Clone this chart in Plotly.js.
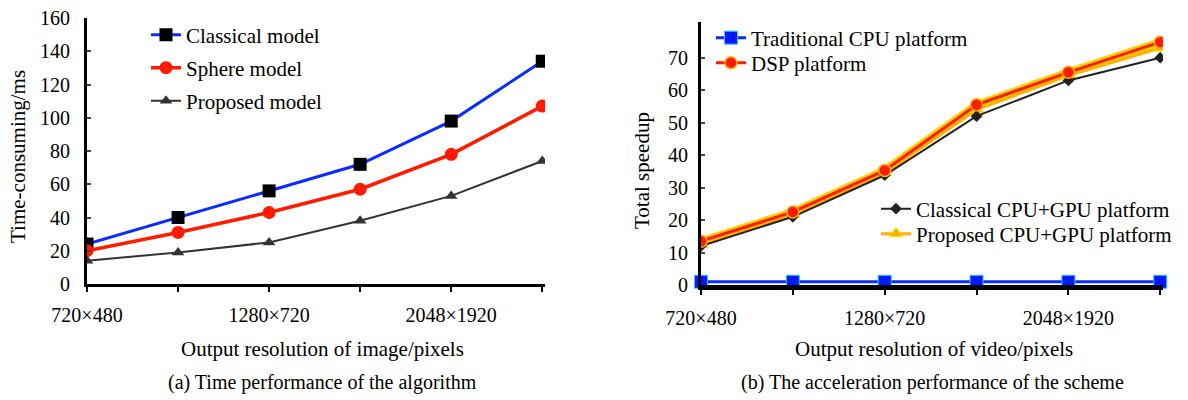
<!DOCTYPE html>
<html><head><meta charset="utf-8">
<script src="https://cdn.plot.ly/plotly-3.0.1.min.js"></script>
<style>html,body{margin:0;padding:0;background:#fff}#c{width:1188px;height:400px}</style>
</head><body><div id="c"></div>
<script>
// ---- data ----
const xIdx = [0, 1, 2, 3, 4, 5];
const tickLabels = ['720×480', '', '1280×720', '', '2048×1920', ''];
// (a) time performance (ms)
const classicalModel = [24, 40, 56, 72, 98, 134];
const sphereModel    = [20, 31, 43, 57, 78, 107];
const proposedModel  = [14, 19, 25, 38, 53, 74];
// (b) total speedup
const traditionalCPU = [1, 1, 1, 1, 1, 1];
const dspPlatform    = [13.5, 22.5, 35.3, 55.5, 65.5, 74.8];
const classicalCPUGPU = [12, 21, 33.8, 52, 63, 70];
const proposedCPUGPU  = [12.5, 21.8, 34.5, 54, 64.5, 73];

const F = 'Liberation Serif, Times New Roman, serif';
const W = 1188, H = 400;
const px = v => v / W, py = v => 1 - v / H;
const LF = {family: F, size: 21, color: '#000'};

const traces = [
  // left
  {x: xIdx, y: classicalModel, name: 'Classical model', xaxis: 'x', yaxis: 'y', legend: 'legend',
   mode: 'lines+markers', line: {color: '#0a2cff', width: 3}, marker: {symbol: 'square', size: 13, color: '#000'}},
  {x: xIdx, y: sphereModel, name: 'Sphere model', xaxis: 'x', yaxis: 'y', legend: 'legend2',
   mode: 'lines+markers', line: {color: '#ff1a00', width: 3.5}, marker: {symbol: 'circle', size: 13, color: '#ff1a00'}},
  {x: xIdx, y: proposedModel, name: 'Proposed model', xaxis: 'x', yaxis: 'y', legend: 'legend3',
   mode: 'lines+markers', line: {color: '#333', width: 2}, marker: {symbol: 'triangle-up', size: 11, color: '#333'}},
  // right: glow underlay
  {x: xIdx, y: dspPlatform, xaxis: 'x2', yaxis: 'y2', showlegend: false, hoverinfo: 'skip',
   mode: 'lines', line: {color: '#ffd000', width: 8}},
  {x: xIdx, y: proposedCPUGPU, name: 'Proposed CPU+GPU platform', xaxis: 'x2', yaxis: 'y2', legend: 'legend7',
   mode: 'lines+markers', line: {color: '#ffb000', width: 3}, marker: {symbol: 'triangle-up', size: 12, color: '#ffb000', line: {color: '#ffe000', width: 1}}},
  {x: xIdx, y: classicalCPUGPU, name: 'Classical CPU+GPU platform', xaxis: 'x2', yaxis: 'y2', legend: 'legend6',
   mode: 'lines+markers', line: {color: '#222', width: 2}, marker: {symbol: 'diamond', size: 9, color: '#222'}},
  {x: xIdx, y: dspPlatform, name: 'DSP platform', xaxis: 'x2', yaxis: 'y2', legend: 'legend5',
   mode: 'lines+markers', line: {color: '#ff1a00', width: 3}, marker: {symbol: 'circle', size: 12, color: '#ff1a00', line: {color: '#ffb000', width: 1.5}}},
  {x: xIdx, y: traditionalCPU, name: 'Traditional CPU platform', xaxis: 'x2', yaxis: 'y2', legend: 'legend4',
   mode: 'lines+markers', line: {color: '#0a2cff', width: 3}, marker: {symbol: 'square', size: 13, color: '#0018ff', line: {color: '#33c8ff', width: 1}}, cliponaxis: false}
];

const axFont = {family: F, size: 20, color: '#000'};
const xCommon = {
  tickmode: 'array', tickvals: xIdx, ticktext: tickLabels, tickfont: axFont,
  showline: true, linecolor: '#000', ticks: 'outside', ticklen: 5, tickwidth: 2, tickcolor: '#000',
  showgrid: false, zeroline: false, range: [0, 5.03], ticklabelstandoff: 6, fixedrange: true
};
function leg(x, y) {
  return {x: px(x), y: py(y), xanchor: 'left', yanchor: 'middle', bgcolor: 'rgba(0,0,0,0)', font: LF, itemwidth: 30, borderwidth: 0};
}
const ann = (text, x, y, size, angle) => ({text, x: px(x), y: py(y), xref: 'paper', yref: 'paper', showarrow: false,
  xanchor: 'center', yanchor: 'middle', textangle: angle || 0, font: {family: F, size, color: '#000'}});

const layout = {
  width: W, height: H, margin: {l: 0, r: 0, t: 0, b: 0},
  paper_bgcolor: '#fff', plot_bgcolor: '#fff', font: {family: F, size: 20, color: '#000'},
  xaxis: Object.assign({}, xCommon, {domain: [px(87), px(545)], anchor: 'y', linewidth: 3}),
  yaxis: {domain: [py(284), py(18)], range: [0, 160], anchor: 'x', tickvals: [0,20,40,60,80,100,120,140,160],
          tickfont: axFont, showline: true, linecolor: '#000', linewidth: 3, ticks: 'inside', ticklen: 4, tickwidth: 2,
          showgrid: false, zeroline: false, ticklabelstandoff: 10},
  xaxis2: Object.assign({}, xCommon, {domain: [px(701), px(1163)], anchor: 'y2', linewidth: 5}),
  yaxis2: {domain: [py(285), py(22)], range: [0, 81], anchor: 'x2', tickvals: [0,10,20,30,40,50,60,70],
          tickfont: axFont, showline: true, linecolor: '#000', linewidth: 3, ticks: 'inside', ticklen: 4, tickwidth: 2,
          showgrid: false, zeroline: false, ticklabelstandoff: 6},
  legend: leg(146, 35),
  legend2: leg(146, 68),
  legend3: leg(146, 101),
  legend4: leg(711, 38),
  legend5: leg(711, 63),
  legend6: leg(876, 209),
  legend7: leg(876, 234),
  annotations: [
    ann('Time-consuming/ms', 18, 157, 21, -90),
    ann('Total speedup', 642, 171, 21, -90),
    ann('Output resolution of image/pixels', 322, 349, 21),
    ann('Output resolution of video/pixels', 934, 349, 21),
    ann('(a) Time performance of the algorithm', 322, 382, 20),
    ann('(b) The acceleration performance of the scheme', 932, 382, 20)
  ],
  showlegend: true
};
Plotly.newPlot('c', traces, layout, {displayModeBar: false, staticPlot: true});
</script>
</body></html>
